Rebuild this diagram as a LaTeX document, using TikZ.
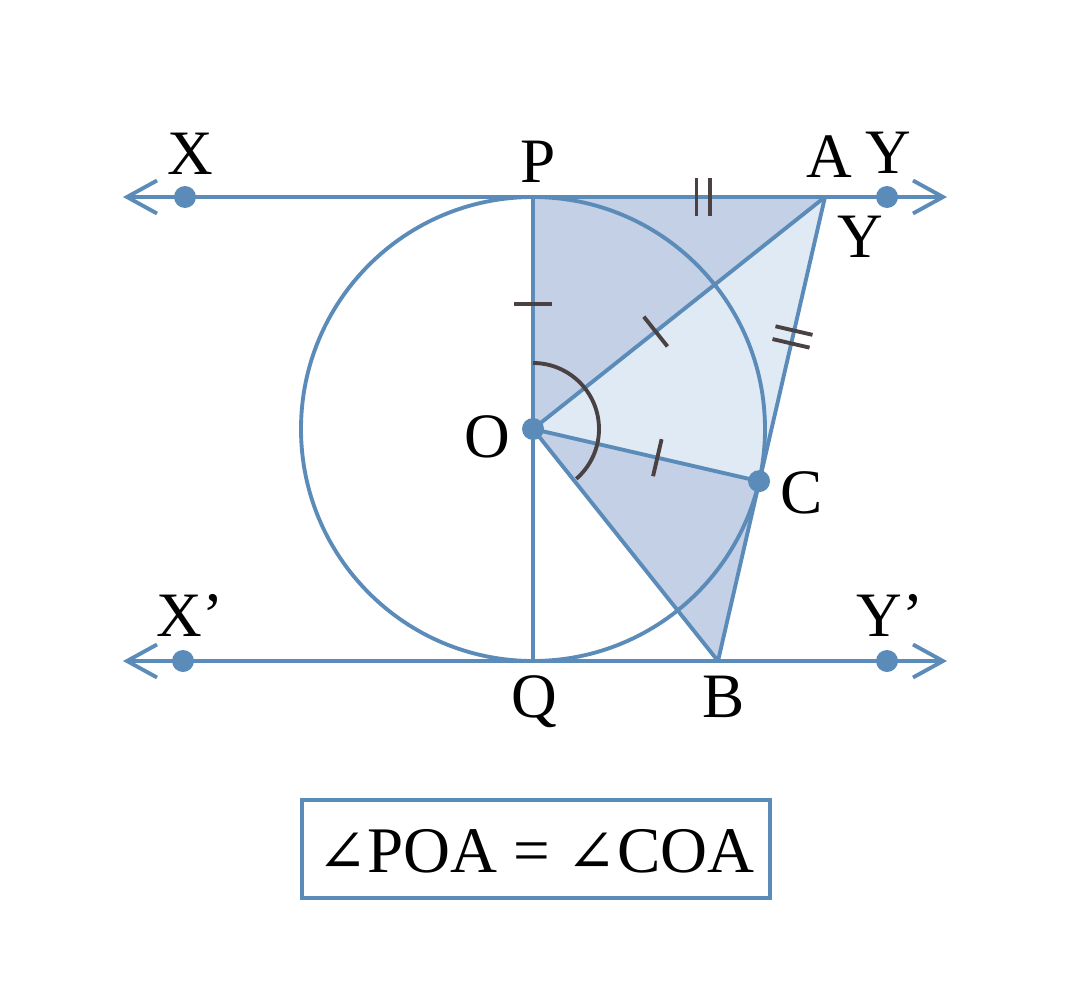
\documentclass[tikz,border=0pt]{standalone}
\usepackage{fontspec}
\setmainfont{Liberation Serif}
\newfontfamily\symfont{DejaVu Serif}
\usetikzlibrary{arrows.meta,calc}
\definecolor{geoblue}{HTML}{5B8BB8}
\definecolor{shadedark}{HTML}{C3D0E5}
\definecolor{shadelight}{HTML}{DFEAF4}
\definecolor{markgray}{HTML}{4A4242}

\begin{document}
\begin{tikzpicture}[
    geoline/.style={draw=geoblue, line width=1.1pt},
    endarrows/.style={geoline, {Straight Barb[length=3mm,width=3.3mm]}-{Straight Barb[length=3mm,width=3.3mm]}},
    dot/.style={circle, fill=geoblue, inner sep=0pt, minimum size=2.2mm},
    lbl/.style={anchor=base, inner sep=0pt, font=\fontsize{18}{21}\selectfont},
    tickmark/.style={draw=markgray, line width=1.1pt}
]
    \useasboundingbox (0, 0) rectangle (10.65, 9.92);

    % points
    \coordinate (O) at (5.33, 5.63);
    \coordinate (P) at (5.33, 7.95);
    \coordinate (Q) at (5.33, 3.31);
    \coordinate (A) at (8.25, 7.95);
    \coordinate (C) at ($(O)+(-13:2.32)$);
    \coordinate (B) at (7.18, 3.31);
    \coordinate (lineTL) at (1.23, 7.95);
    \coordinate (lineTR) at (9.47, 7.95);
    \coordinate (lineBL) at (1.23, 3.31);
    \coordinate (lineBR) at (9.47, 3.31);

    % shading
    \fill[shadedark] (P) -- (A) -- (O) -- cycle;
    \fill[shadelight] (O) -- (A) -- (C) -- cycle;
    \fill[shadedark] (O) -- (C) -- (B) -- cycle;

    % circle and lines
    \draw[geoline] (O) circle[radius=2.32];
    \draw[endarrows] (lineTL) -- (lineTR);
    \draw[endarrows] (lineBL) -- (lineBR);
    \draw[geoline] (P) -- (Q);
    \draw[geoline] (O) -- (A);
    \draw[geoline] (O) -- (C);
    \draw[geoline] (O) -- (B);
    \draw[geoline] (A) -- (B);

    % equal marks
    \draw[tickmark] ($(O)!0.54!(P)!1.9mm!90:(P)$) -- ($(O)!0.54!(P)!1.9mm!-90:(P)$);
    \draw[tickmark] ($(O)!0.42!(A)!1.9mm!90:(A)$) -- ($(O)!0.42!(A)!1.9mm!-90:(A)$);
    \draw[tickmark] ($(O)!0.55!(C)!1.9mm!90:(C)$) -- ($(O)!0.55!(C)!1.9mm!-90:(C)$);
    \draw[tickmark] ($(P)!0.56!(A)!1.9mm!90:(A)$) -- ($(P)!0.56!(A)!1.9mm!-90:(A)$);
    \draw[tickmark] ($(P)!0.605!(A)!1.9mm!90:(A)$) -- ($(P)!0.605!(A)!1.9mm!-90:(A)$);
    \draw[tickmark] ($(A)!0.47!(C)!1.9mm!90:(C)$) -- ($(A)!0.47!(C)!1.9mm!-90:(C)$);
    \draw[tickmark] ($(A)!0.515!(C)!1.9mm!90:(C)$) -- ($(A)!0.515!(C)!1.9mm!-90:(C)$);
    \draw[tickmark] ($(O)+(90:0.66)$) arc[start angle=90, end angle=-49, radius=0.66];

    % dots
    \node[dot] (dotX) at (1.85, 7.95) {};
    \node[dot] (dotY) at (8.87, 7.95) {};
    \node[dot] (dotXp) at (1.83, 3.31) {};
    \node[dot] (dotYp) at (8.87, 3.31) {};
    \node[dot] (dotO) at (O) {};
    \node[dot] (dotC) at (C) {};

    % labels
    \node[lbl] (labX) at (1.90, 8.18) {X};
    \node[lbl] (labP) at (5.38, 8.10) {P};
    \node[lbl] (labA) at (8.29, 8.15) {A};
    \node[lbl] (labY) at (8.88, 8.19) {Y};
    \node[lbl] (labYb) at (8.60, 7.35) {Y};
    \node[lbl] (labO) at (4.87, 5.35) {O};
    \node[lbl] (labC) at (8.02, 4.79) {C};
    \node[lbl] (labXp) at (1.90, 3.56) {X’};
    \node[lbl] (labYp) at (8.90, 3.56) {Y’};
    \node[lbl] (labQ) at (5.34, 2.75) {Q};
    \node[lbl] (labB) at (7.24, 2.75) {B};

    % result box
    \draw[draw=geoblue, line width=1.1pt] (3.02, 0.94) rectangle (7.70, 1.92);
    \node[anchor=base, inner sep=0pt, font=\fontsize{18.5}{22}\selectfont] (result) at (5.36, 1.20)
        {{\symfont\fontsize{17}{20}\selectfont ∠}POA = {\symfont\fontsize{17}{20}\selectfont ∠}COA};
\end{tikzpicture}
\end{document}
